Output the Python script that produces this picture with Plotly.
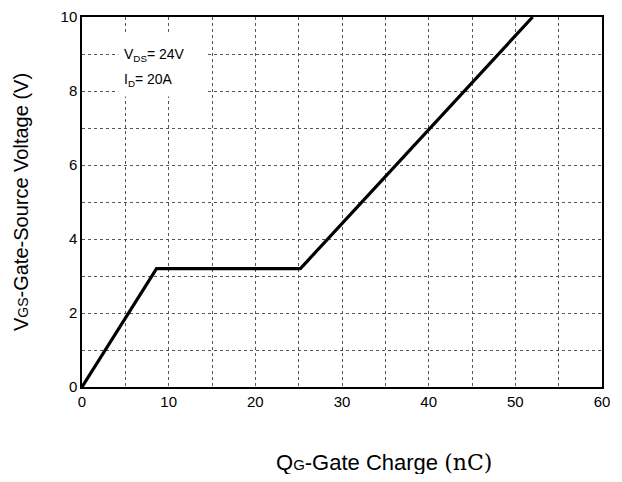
import plotly.graph_objects as go

qg_nc = [0, 8.6, 25.2, 52.0]
vgs_v = [0, 3.2, 3.2, 10.0]
x_ticks = [0, 10, 20, 30, 40, 50, 60]
y_ticks = [0, 2, 4, 6, 8, 10]

fig = go.Figure()
fig.add_trace(go.Scatter(x=qg_nc, y=vgs_v, mode="lines", cliponaxis=True,
                         line=dict(color="black", width=3.2), showlegend=False))

grid = dict(gridcolor="#555", griddash="dot", gridwidth=1)
fig.update_layout(
    width=606, height=466,
    margin=dict(l=74, r=12, t=9, b=87),
    paper_bgcolor="white", plot_bgcolor="white",
    font=dict(family="Liberation Sans, Arial, sans-serif", color="black"),
)
fig.update_xaxes(range=[0, 60], tickvals=x_ticks, showgrid=True, automargin=False,
                 showline=True, linecolor="black", linewidth=1.5, mirror=True,
                 zeroline=False, tickfont=dict(size=15), ticks="",
                 minor=dict(tickvals=[5, 15, 25, 35, 45, 55], showgrid=True, **grid),
                 **grid)
fig.update_yaxes(range=[0, 10], tickvals=y_ticks, showgrid=True, automargin=False,
                 showline=True, linecolor="black", linewidth=1.5, mirror=True,
                 zeroline=False, tickfont=dict(size=15), ticks="",
                 minor=dict(tickvals=[1, 3, 5, 7, 9], showgrid=True, **grid),
                 **grid)

fig.update_yaxes(title=dict(
    text='V<span style="font-size:14px">GS</span>-Gate-Source Voltage (V)',
    font=dict(size=20), standoff=27))

fig.add_annotation(xref="paper", yref="paper", x=0.58, y=-0.203,
                   text='Q<span style="font-size:15px">G</span>-Gate Charge '
                        '<span style="font-family:DejaVu Serif">(nC)</span>',
                   showarrow=False, font=dict(size=22), xanchor="center", yanchor="middle")

# white label box over the grid
fig.add_shape(type="rect", xref="x", yref="y", x0=4.2, x1=14.4, y0=7.85, y1=9.55,
              fillcolor="white", line=dict(width=0), layer="above")
fig.add_annotation(xref="x", yref="y", x=4.6, y=8.98, xanchor="left",
                   text="V<sub>DS</sub>= 24V", showarrow=False, font=dict(size=14))
fig.add_annotation(xref="x", yref="y", x=4.6, y=8.3, xanchor="left",
                   text="I<sub>D</sub>= 20A", showarrow=False, font=dict(size=14))

fig.write_html("out.html")
